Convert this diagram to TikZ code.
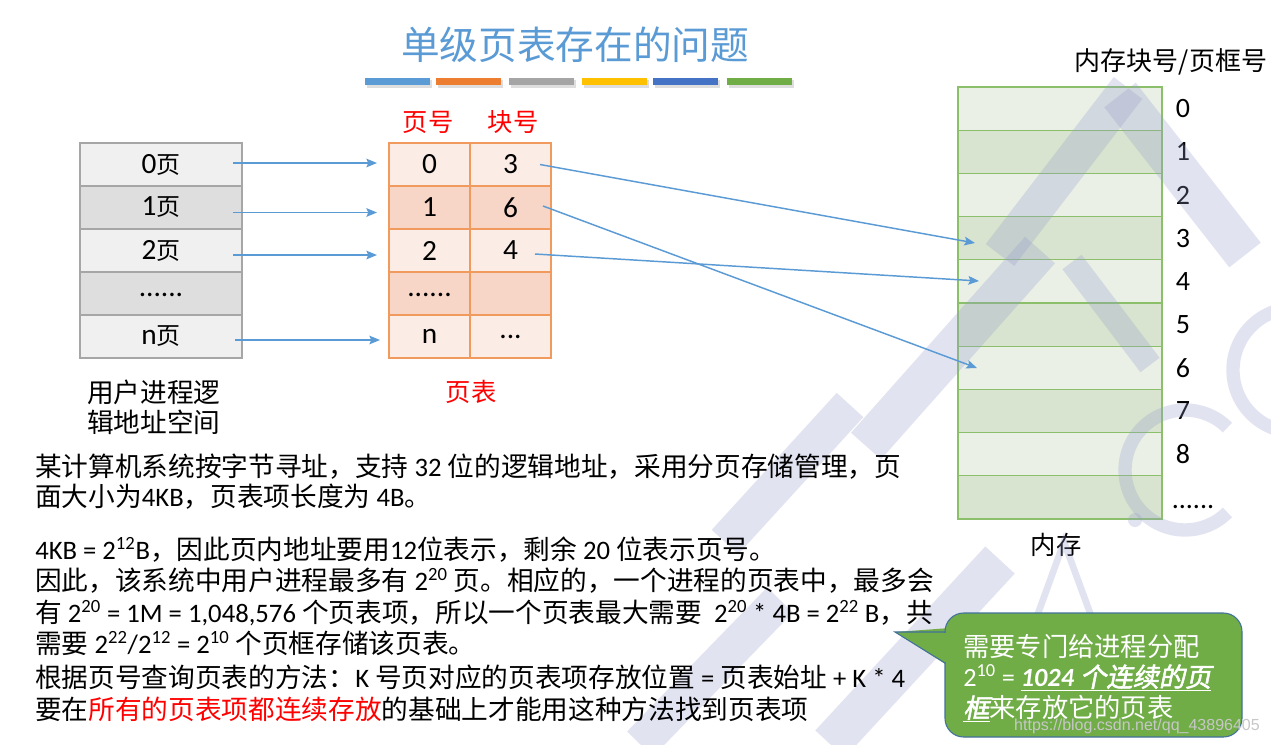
\documentclass[tikz,border=0pt]{standalone}
\usepackage{fontspec}
\setmainfont{Noto Sans CJK SC}
\newfontfamily\lat{Carlito}
\newfontfamily\cbi{Noto Sans CJK SC}[FakeSlant=0.2,FakeBold=2]
\newfontfamily\urlf{Liberation Sans}
\usetikzlibrary{arrows.meta,calc}
\definecolor{tblue}{HTML}{5B9BD5}
\definecolor{borange}{HTML}{ED7D31}
\definecolor{bgray}{HTML}{A5A5A5}
\definecolor{byellow}{HTML}{FFC000}
\definecolor{bdblue}{HTML}{4472C4}
\definecolor{bgreen}{HTML}{70AD47}
\definecolor{lgray}{HTML}{A6A6A6}
\definecolor{lg1}{HTML}{F0F0F0}
\definecolor{lg2}{HTML}{DEDEDE}
\definecolor{torange}{HTML}{F19A5E}
\definecolor{to1}{HTML}{FBECE5}
\definecolor{to2}{HTML}{F7D6C8}
\definecolor{mgreen}{HTML}{8CBF6A}
\definecolor{mg1}{HTML}{EAF0E6}
\definecolor{mg2}{HTML}{D8E4CF}
\definecolor{cbord}{HTML}{41719C}
\definecolor{wmc}{RGB}{150,156,205}
\newcommand\pg[1]{{\lat\fontsize{22}{24}\selectfont #1}{\fontsize{18}{20}\selectfont 页}}
\newcommand\sps[1]{\textsuperscript{#1}}
\newcommand\ltn[1]{{\lat #1}}
\begin{document}
\begin{tikzpicture}[x=0.75pt,y=-0.75pt,
  lcell/.style={draw=lgray, line width=1.3pt, minimum width=121.5pt, minimum height=32.25pt, inner sep=0pt, outer sep=0pt},
  tcell/.style={draw=torange, line width=1.3pt, minimum width=60.75pt, minimum height=32.25pt, inner sep=0pt, outer sep=0pt, font=\lat\fontsize{22}{24}\selectfont},
  mcell/.style={draw=mgreen, line width=1pt, minimum width=153pt, minimum height=32.4pt, inner sep=0pt, outer sep=0pt},
  mnum/.style={font=\lat\fontsize{21}{24}\selectfont, inner sep=0pt},
  arr/.style={draw=tblue, line width=1.1pt, -{Stealth[length=8pt,width=6.5pt,inset=1.5pt]}},
  red/.style={text=red, font=\fontsize{19}{22}\selectfont},
  txt/.style={anchor=west, inner sep=0pt, font=\fontsize{20}{24}\selectfont},
  cal/.style={anchor=west, inner sep=0pt, text=white, font=\fontsize{19.7}{24}\selectfont},
  bar/.style={minimum width=48.75pt, minimum height=5.25pt, inner sep=0pt},
  wm/.style={draw=wmc, opacity=0.28, line cap=butt}
]
\useasboundingbox (0,0) rectangle (1271,744);
\fill[white] (0,0) rectangle (1271,744);

% title
\node[text=tblue, font=\fontsize{29}{32}\selectfont] (title) at (575,45) {单级页表存在的问题};
\foreach \c/\x in {tblue/365, borange/436, bgray/509, byellow/582, bdblue/653, bgreen/727}{
  \fill[black!25, opacity=0.5] (\x+1.5,80) rectangle (\x+66.5,88);
  \node[bar, fill=\c, anchor=north west] at (\x,78) {};
}

% left: logical address space
\node[lcell, fill=lg1] (l0) at (161,164.5) {\pg{0}};
\node[lcell, fill=lg2] (l1) at (161,207.5) {\pg{1}};
\node[lcell, fill=lg1] (l2) at (161,250.5) {\pg{2}};
\node[lcell, fill=lg2] (l3) at (161,293.5) {\raisebox{-4pt}{\lat\fontsize{22}{24}\selectfont ......}};
\node[lcell, fill=lg1] (l4) at (161,336.5) {\pg{n}};
\node[anchor=north west, inner sep=0pt, align=left, font=\fontsize{20}{22.5}\selectfont] (lab) at (87,380) {用户进程逻\\辑地址空间};

% page table
\node[red] (h1) at (428,122) {页号};
\node[red] (h2) at (513,122) {块号};
\node[tcell, fill=to1] (a0) at (429.5,164.5) {0};
\node[tcell, fill=to1] (b0) at (510.5,164.5) {3};
\node[tcell, fill=to2] (a1) at (429.5,207.5) {1};
\node[tcell, fill=to2] (b1) at (510.5,207.5) {6};
\node[tcell, fill=to1] (a2) at (429.5,250.5) {2};
\node[tcell, fill=to1] (b2) at (510.5,250.5) {4};
\node[tcell, fill=to2] (a3) at (429.5,293.5) {\raisebox{-4pt}{......}};
\node[tcell, fill=to2] (b3) at (510.5,293.5) {};
\node[tcell, fill=to1] (a4) at (429.5,336.5) {n};
\node[tcell, fill=to1] (b4) at (510.5,336.5) {\raisebox{-2pt}{...}};
\node[red] (pt) at (471,392) {页表};

% memory
\node[anchor=south, inner sep=0pt, font=\fontsize{19.5}{22}\selectfont] (mh) at (1171,75) {内存块号/页框号};
\foreach \i in {0,...,9}{
  \pgfmathsetmacro\yy{108.6+43.2*\i}
  \ifodd\i
    \node[mcell, fill=mg2] (m\i) at (1060,\yy) {};
  \else
    \node[mcell, fill=mg1] (m\i) at (1060,\yy) {};
  \fi
}
\foreach \i in {0,...,8}{
  \node[mnum] (n\i) at ($(m\i.east)+(21,0)$) {\i};
}
\node[mnum, anchor=base] (n9) at (1193,508) {......};
\node[font=\fontsize{19}{22}\selectfont] (mem) at (1056,545) {内存};

% watermark (rough)
\draw[wm, line width=30pt] (1120,95) -- (1245,255);
\draw[wm, line width=27pt] (1000,255) -- (1128,88);
\draw[wm, line width=18pt] (1072,262) -- (1150,365);
\draw[wm, line width=30pt] (866,446) -- (1040,250);
\draw[wm, line width=27pt] (725,542) -- (850,405);
\draw[wm, line width=30pt] (830,744) -- (1000,560);
\draw[wm, line width=27pt] (640,744) -- (780,600);
\draw[wm, line width=10pt] (1185,470) ++(-45:60) arc[start angle=-45, end angle=-315, radius=60];
\draw[wm, line width=10pt] (1295,370) circle[radius=62];
\fill[wmc, opacity=0.28] (1135,520) circle[radius=7];
\draw[wm, line width=5pt] (1000,718) -- (1064,542) -- (1100,640);

% arrows
\draw[arr] ($(l0.east)+(-9,-1.5)$) -- ($(a0.west)+(-12,-1.5)$);
\draw[arr] ($(l1.east)+(-9,5)$) -- ($(a1.west)+(-12,5)$);
\draw[arr] ($(l2.east)+(-9,4.5)$) -- ($(a2.west)+(-12,4.5)$);
\draw[arr] ($(l4.east)+(-7,3.5)$) -- ($(a4.west)+(-9,3.5)$);
\draw[arr] ($(b0.center)+(29.5,0)$) -- ($(m3.west)+(17,4.8)$);
\draw[arr] ($(b1.center)+(32.5,-1.5)$) -- ($(m6.west)+(19,0.2)$);
\draw[arr] ($(b2.center)+(24.5,3.5)$) -- ($(m4.west)+(21,-0.4)$);

% text block
\node[txt] (t1) at (35,467) {某计算机系统按字节寻址，支持\ltn{ 32 }位的逻辑地址，采用分页存储管理，页};
\node[txt] (t2) at (35,497) {面大小为\ltn{4KB}，页表项长度为\ltn{ 4B}。};
\node[txt] (t3) at (35,550) {\ltn{4KB = 2\sps{12}B}，因此页内地址要用\ltn{12}位表示，剩余\ltn{ 20 }位表示页号。};
\node[txt] (t4) at (35,581) {因此，该系统中用户进程最多有\ltn{ 2\sps{20} }页。相应的，一个进程的页表中，最多会};
\node[txt] (t5) at (35,613) {有\ltn{ 2\sps{20} = 1M = 1,048,576 }个页表项，所以一个页表最大需要\ltn{ \ 2\sps{20} * 4B = 2\sps{22} B}，共};
\node[txt] (t6) at (35,643) {需要\ltn{ 2\sps{22}/2\sps{12} = 2\sps{10} }个页框存储该页表。};
\node[txt] (t7) at (35,677) {根据页号查询页表的方法：\ltn{K }号页对应的页表项存放位置\ltn{ = }页表始址\ltn{ + K * 4}};
\node[txt] (t8) at (35,709) {要在\textcolor{red}{所有的页表项都连续存放}的基础上才能用这种方法找到页表项};

% callout
\fill[bgreen] (895,632) -- (950,628) -- (950,667) -- cycle;
\draw[cbord, line width=0.8pt, fill=bgreen, rounded corners=14] (945,613) rectangle (1242,737);
\fill[bgreen] (943,633.2) rectangle (947,661.8);
\draw[cbord, line width=0.8pt] (945,632) -- (895,632) -- (945,663);
\node[cal] (c1) at (963,647) {需要专门给进程分配};
\node[cal] (c2) at (963,678) {\ltn{2\sps{10} = }\underline{{\lat\bfseries\itshape 1024 }\cbi 个连续的页}};
\node[cal] (c3) at (963,709) {\underline{\cbi 框}来存放它的页表};

% watermark url
\node[text=black!22, font=\urlf\fontsize{12}{14}\selectfont, inner sep=0pt] (url) at (1137,726) {https://blog.csdn.net/qq\_43896405};
\end{tikzpicture}
\end{document}
